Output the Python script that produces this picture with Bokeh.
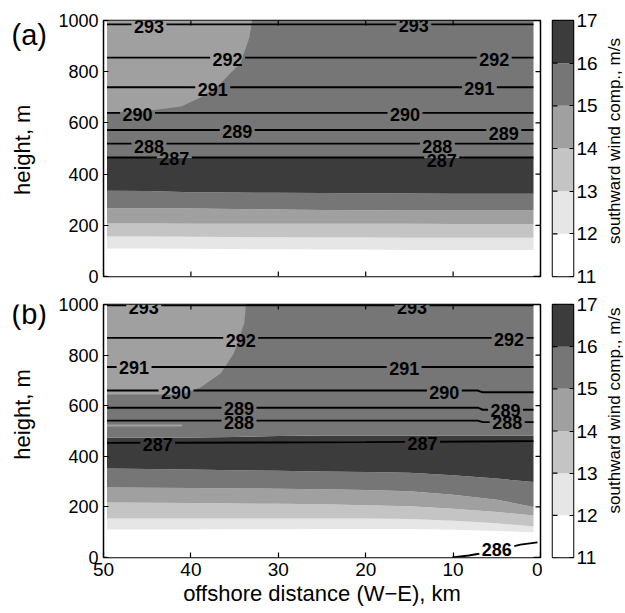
import numpy as np
from bokeh.plotting import figure
from bokeh.models import Range1d, FixedTicker
from bokeh.layouts import column, row
from bokeh.embed import file_html
from bokeh.resources import INLINE
from bokeh.core.properties import value

FONT = "Liberation Sans"

# ---------------- data ----------------
speed_levels = [11, 12, 13, 14, 15, 16, 17]
speed_colors = ["#ffffff", "#e6e6e6", "#c4c4c4", "#a0a0a0", "#767676", "#3c3c3c"]
x_ticks = [50, 40, 30, 20, 10, 0]
y_ticks = [0, 200, 400, 600, 800, 1000]
cbar_title = "southward wind comp., m/s"
y_title = "height, m"
x_title = "offshore distance (W\u2212E), km"

# offshore distance (km) where contour heights were read
grid_x = [49.6, 45, 40, 35, 30, 25, 20, 15, 10, 5, 0.8]

# panel (a): heights (m) of the southward-wind contours
a_u12 = [109, 109, 108, 107, 106, 105, 105, 104, 104, 104, 104]
a_u13 = [156, 156, 155, 154, 153, 152, 152, 151, 151, 151, 151]
a_u14 = [207, 207, 206, 206, 206, 206, 206, 206, 205, 205, 205]
a_u15 = [267, 267, 266, 264, 262, 260, 259, 258, 258, 258, 258]
a_u16_low = [335, 334, 329, 328, 327, 326, 325, 324, 323, 323, 323]
a_u16_high = [465, 465, 465, 465, 465, 465, 465, 465, 465, 465, 465]
a_blob_x = [49.6, 44.6, 41.1, 38.9, 36.6, 34.3, 33.3, 33.0]
a_blob_h = [641, 648, 664, 699, 754, 836, 934, 1000]

# panel (b)
b_u12 = [111, 111, 111, 112, 112, 113, 113, 113, 110, 105, 100]
b_u13 = [154, 154, 154, 154, 154, 154, 154, 152, 145, 135, 123]
b_u14 = [217, 216, 215, 213, 212, 210, 207, 203, 193, 180, 166]
b_u15 = [277, 276, 275, 273, 272, 270, 267, 262, 248, 228, 200]
b_u16_low = [352, 350, 348, 345, 343, 340, 338, 335, 325, 312, 298]
b_u16_high = [474, 474, 474, 476, 480, 482, 482, 482, 482, 482, 482]
b_blob_x = [49.6, 41.1, 38.9, 36.6, 35.1, 33.9, 33.7]
b_blob_h = [644, 644, 672, 727, 806, 925, 1000]
b_sliver_x = [49.6, 41.0]
b_sliver_low = [518, 518]
b_sliver_high = [526, 526]

# potential temperature isolines (K): x (km) and height (m)
a_theta = {
    293: ([49.6, 0.8], [985, 985]),
    292: ([49.6, 0.8], [855, 855]),
    291: ([49.6, 0.8], [739, 739]),
    290: ([49.6, 0.8], [639, 639]),
    289: ([49.6, 0.8], [572, 572]),
    288: ([49.6, 0.8], [519, 519]),
    287: ([49.6, 0.8], [465, 465]),
}
a_theta_labels = {
    293: ([44.8, 14.5], [978, 980]),
    292: ([35.8, 5.3], [847, 846]),
    291: ([37.5, 7.0], [730, 733]),
    290: ([46.1, 15.5], [634, 631]),
    289: ([34.7, 4.2], [566, 560]),
    288: ([44.8, 11.8], [509, 507]),
    287: ([41.9, 11.3], [459, 455]),
}

b_theta = {
    293: ([49.6, 0.8], [997, 997]),
    292: ([49.6, 0.8], [868, 868]),
    291: ([49.6, 0.8], [753, 753]),
    290: ([49.6, 7.2, 6.6, 0.8], [660, 660, 653, 653]),
    289: ([49.6, 7.2, 6.6, 0.8], [592, 592, 584, 584]),
    288: ([49.6, 7.2, 6.6, 0.8], [541, 541, 535, 535]),
    287: ([49.6, 20, 0.8], [453, 456, 460]),
    286: ([10.1, 8.2, 7.05, 5.0, 3.2, 2.3, 0.35], [0, 8, 15, 30, 43, 51, 60]),
}
b_theta_labels = {
    293: ([45.4, 14.7], [990, 990]),
    292: ([34.3, 3.6], [858, 862]),
    291: ([46.5, 15.6], [752, 748]),
    290: ([41.7, 11.0], [651, 652]),
    289: ([34.5, 4.0], [589, 582]),
    288: ([34.5, 3.8], [532, 532]),
    287: ([43.8, 13.5], [448, 450]),
    286: ([5.0], [30]),
}

LABEL_GAP = 2.0  # km, half-width of the break in an isoline around its label


def split_line(xs, hs, centers):
    xs = np.asarray(xs, float)
    hs = np.asarray(hs, float)
    order = np.argsort(xs)
    xs, hs = xs[order], hs[order]
    gaps = sorted((c - LABEL_GAP, c + LABEL_GAP) for c in centers)
    segs_x, segs_y = [], []
    start = xs[0]
    for lo, hi in gaps + [(xs[-1], None)]:
        end = min(lo, xs[-1])
        if end > start:
            inner = xs[(xs > start) & (xs < end)]
            sx = np.concatenate([[start], inner, [end]])
            segs_x.append(list(sx))
            segs_y.append(list(np.interp(sx, xs, hs)))
        if hi is None:
            break
        start = max(start, hi)
    return segs_x, segs_y


def blank_fig(width, height):
    f = figure(width=width, height=height, x_range=Range1d(0, width), y_range=Range1d(0, height),
               output_backend="svg", toolbar_location=None, min_border=0,
               x_axis_location=None, y_axis_location=None)
    f.grid.visible = False
    f.outline_line_color = None
    f.background_fill_color = "white"
    f.border_fill_color = "white"
    return f


def tick_rays(p, xs, ys, angle):
    p.ray(x=xs, y=ys, length=5, length_units="screen", angle=angle,
          line_color="black", line_width=1.2)


def make_row(tag, height, b_top, b_bottom, last, tag_y, ylab_y, title_y,
             u12, u13, u14, u15, u16l, u16h, blob_x, blob_h, theta, theta_labels,
             sliver=None):
    # ---- left strip: panel tag and y-axis title
    left = blank_fig(50, height)
    left.text(x=[11], y=[height - tag_y], text=[tag], text_align="left", text_baseline="middle",
              text_font=value(FONT), text_font_size="29px", text_color="black")
    left.text(x=[22], y=[height - ylab_y], text=[y_title], angle=np.pi / 2,
              text_align="center", text_baseline="middle",
              text_font=value(FONT), text_font_size="22px", text_color="black")

    # ---- main panel
    p = figure(width=492, height=height, x_range=Range1d(50, 0), y_range=Range1d(0, 1000),
               output_backend="svg", toolbar_location=None,
               min_border_left=53, min_border_right=2,
               min_border_top=b_top, min_border_bottom=b_bottom,
               x_axis_location="below" if last else None)
    p.grid.visible = False
    p.outline_line_color = "black"
    p.outline_line_width = 1.5
    p.background_fill_color = "white"
    p.border_fill_color = "white"

    zeros = [0] * len(grid_x)
    tops = [1000] * len(grid_x)
    c = speed_colors
    p.varea(x=grid_x, y1=zeros, y2=u12, fill_color=c[0])
    p.varea(x=grid_x, y1=u12, y2=u13, fill_color=c[1])
    p.varea(x=grid_x, y1=u13, y2=u14, fill_color=c[2])
    p.varea(x=grid_x, y1=u14, y2=u15, fill_color=c[3])
    p.varea(x=grid_x, y1=u15, y2=u16l, fill_color=c[4])
    p.varea(x=grid_x, y1=u16l, y2=u16h, fill_color=c[5])
    p.varea(x=grid_x, y1=u16h, y2=tops, fill_color=c[4])
    px = list(blob_x) + [blob_x[0]]
    py = list(blob_h) + [blob_h[-1]]
    p.patch(x=px, y=py, fill_color=c[3], line_color=None)
    if sliver is not None:
        sx, sl, sh = sliver
        p.varea(x=sx, y1=sl, y2=sh, fill_color=c[3])

    for lev, (xs, hs) in theta.items():
        lx, ly = theta_labels[lev]
        segx, segy = split_line(xs, hs, lx)
        p.multi_line(xs=segx, ys=segy, line_color="black", line_width=1.9)
        p.text(x=lx, y=ly, text=[str(lev)] * len(lx), text_align="center",
               text_baseline="middle", text_font=value(FONT), text_font_style="bold",
               text_font_size="18px", text_color="black")

    # inward tick marks on the top and right edges (and bottom when no x axis)
    tick_rays(p, x_ticks, [1000] * len(x_ticks), -np.pi / 2)
    tick_rays(p, [0] * len(y_ticks), y_ticks, np.pi)
    if not last:
        tick_rays(p, x_ticks, [0] * len(x_ticks), np.pi / 2)

    axes = list(p.yaxis) + (list(p.xaxis) if last else [])
    for ax in axes:
        ax.major_tick_in = 5
        ax.major_tick_out = 0
        ax.minor_tick_line_color = None
        ax.axis_line_color = None
        ax.major_tick_line_width = 1.2
        ax.major_label_text_font = FONT
        ax.major_label_text_font_size = "18px"
        ax.major_label_text_color = "black"
        ax.major_label_standoff = 5
    p.yaxis.ticker = FixedTicker(ticks=y_ticks)
    if last:
        p.xaxis.ticker = FixedTicker(ticks=x_ticks)
        p.xaxis.major_label_text_font_size = "19px"
        p.xaxis.axis_label = x_title
        p.xaxis.axis_label_text_font = FONT
        p.xaxis.axis_label_text_font_style = "normal"
        p.xaxis.axis_label_text_font_size = "22px"
        p.xaxis.axis_label_text_color = "black"
        p.xaxis.axis_label_standoff = 2

    # ---- colour bar
    cb = figure(width=60, height=height, x_range=Range1d(0, 1), y_range=Range1d(11, 17),
                output_backend="svg", toolbar_location=None,
                min_border_left=10, min_border_right=29,
                min_border_top=b_top, min_border_bottom=b_bottom,
                x_axis_location=None, y_axis_location="right")
    cb.grid.visible = False
    cb.outline_line_color = "black"
    cb.outline_line_width = 1.5
    cb.border_fill_color = "white"
    cb.quad(left=0, right=1, bottom=speed_levels[:-1], top=speed_levels[1:],
            fill_color=speed_colors, line_color=None)
    tick_rays(cb, [0] * len(speed_levels), speed_levels, 0)
    ya = cb.yaxis[0]
    ya.ticker = FixedTicker(ticks=speed_levels)
    ya.major_tick_in = 4
    ya.major_tick_out = 0
    ya.minor_tick_line_color = None
    ya.axis_line_color = None
    ya.major_tick_line_width = 1.2
    ya.major_label_standoff = 3
    ya.major_label_text_font = FONT
    ya.major_label_text_font_size = "19px"
    ya.major_label_text_color = "black"

    # ---- colour bar title
    tf = blank_fig(23, height)
    tf.text(x=[12], y=[height - title_y], text=[cbar_title], angle=np.pi / 2,
            text_align="center", text_baseline="middle",
            text_font=value(FONT), text_font_size="17px", text_color="black")

    return row(left, p, cb, tf, spacing=0)


ra = make_row("(a)", 293, 20, 17, False, 17, 148, 138,
              a_u12, a_u13, a_u14, a_u15, a_u16_low, a_u16_high,
              a_blob_x, a_blob_h, a_theta, a_theta_labels)
rb = make_row("(b)", 320, 11, 56, True, 12, 139, 134,
              b_u12, b_u13, b_u14, b_u15, b_u16_low, b_u16_high,
              b_blob_x, b_blob_h, b_theta, b_theta_labels,
              sliver=(b_sliver_x, b_sliver_low, b_sliver_high))

layout = column(ra, rb, spacing=0)
open("out.html", "w").write(file_html(layout, INLINE))
